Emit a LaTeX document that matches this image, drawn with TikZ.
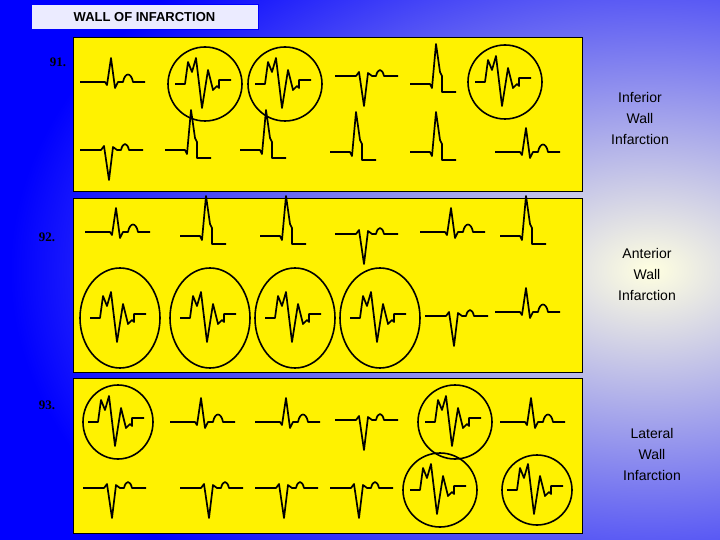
\documentclass[tikz,border=0pt]{standalone}
\usepackage{fontspec}
\setsansfont{Liberation Sans}
\setmainfont{Liberation Serif}
\begin{document}
\begin{tikzpicture}[x=1pt,y=-1pt,
  panel/.style={draw=black,fill=yellow,line width=0.8pt},
  ecg/.style={draw=black,line width=1.7pt,line join=round},
  ring/.style={draw=black,line width=1.6pt},
  lbl/.style={font=\sffamily\fontsize{14}{21}\selectfont,align=center,text=black},
  num/.style={font=\rmfamily\bfseries\fontsize{13}{15}\selectfont},
  pics/pos/.style={code={\draw[ecg] (-35,0)--(-10,0)--(-8,3)--(-4,-24)--(0,6)--(3,0)--(8,0) .. controls (10,-10) and (16,-10) .. (18,0)--(30,0);}},
  pics/neg/.style={code={\draw[ecg] (-35,0)--(-14,0)--(-11,-4)--(-6,30)--(-2,-3)--(2,0)--(6,0) .. controls (8,-8) and (12,-8) .. (14,0)--(28,0);}},
  pics/ste/.style={code={\draw[ecg] (-30,0)--(-10,0)--(-8,4)--(-4,-40)--(0,-12)--(2,-8)--(2,8)--(16,8);}},
  pics/circ/.style args={#1/#2}{code={\draw[ring] (0,0) ellipse (#1 and #2);
    \draw[ecg] (-30,0)--(-20,0)--(-17,-22)--(-13,-12)--(-9,-26)--(-3,24)--(3,-14)--(8,6)--(12,2)--(14,4)--(14,-4)--(26,-4);}}
]
\useasboundingbox (0,0) rectangle (720,540);
\fill[blue] (0,0) rectangle (720,540);
\shade[inner color=yellow!12!white, outer color=blue] (650,270) ellipse (640 and 420);
% title
\node[draw=blue,fill=white!92!blue,line width=1pt,minimum width=227pt,minimum height=25pt,font=\sffamily\bfseries\fontsize{13}{15}\selectfont] (title) at (144.5,17.5) {WALL OF INFARCTION};
% panels
\draw[panel] (73,37) rectangle (582,191);
\draw[panel] (73,198) rectangle (582,372);
\draw[panel] (73,378) rectangle (582,533);
\node[num] (n1) at (58,62) {91.};
\node[num] (n2) at (47,237) {92.};
\node[num] (n3) at (47,405) {93.};
\node[lbl] (l1) at (640,118) {Inferior\\Wall\\Infarction};
\node[lbl] (l2) at (647,274) {Anterior\\Wall\\Infarction};
\node[lbl] (l3) at (652,454) {Lateral\\Wall\\Infarction};
% panel 1
\pic at (115,82) {pos};
\pic at (205,84) {circ={37pt/37pt}};
\pic at (285,84) {circ={37pt/37pt}};
\pic at (370,76) {neg};
\pic at (440,84) {ste};
\pic at (505,82) {circ={37pt/37pt}};
\pic at (115,150) {neg};
\pic at (195,150) {ste};
\pic at (270,150) {ste};
\pic at (360,152) {ste};
\pic at (440,152) {ste};
\pic at (530,152) {pos};
% panel 2
\pic at (120,232) {pos};
\pic at (210,236) {ste};
\pic at (290,236) {ste};
\pic at (370,234) {neg};
\pic at (455,232) {pos};
\pic at (530,236) {ste};
\pic at (120,318) {circ={40pt/50pt}};
\pic at (210,318) {circ={40pt/50pt}};
\pic at (295,318) {circ={40pt/50pt}};
\pic at (380,318) {circ={40pt/50pt}};
\pic at (460,316) {neg};
\pic at (530,312) {pos};
% panel 3
\pic at (118,422) {circ={35pt/37pt}};
\pic at (205,422) {pos};
\pic at (290,422) {pos};
\pic at (370,420) {neg};
\pic at (455,422) {circ={37pt/37pt}};
\pic at (535,422) {pos};
\pic at (118,488) {neg};
\pic at (215,488) {neg};
\pic at (290,488) {neg};
\pic at (365,488) {neg};
\pic at (440,490) {circ={37pt/37pt}};
\pic at (537,490) {circ={35pt/35pt}};
\end{tikzpicture}
\end{document}
